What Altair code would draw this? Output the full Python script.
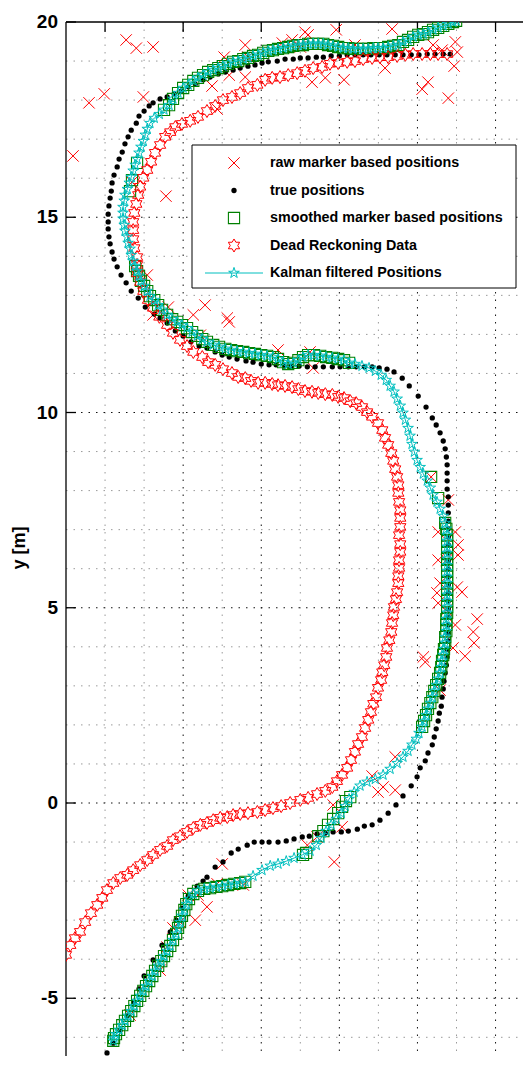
import altair as alt
import pandas as pd

# ---------------- data (metres) ----------------
true_x = [-2.07,-1.95,-1.79,-1.61,-1.43,-1.25,-1.13,-1.00,-0.77,-0.54,
          -0.33,-0.18,-0.03,0.13,0.36,0.51,0.61,0.82,1.02,1.23,
          1.41,1.64,1.82,2.02,2.20,2.43,2.64,2.84,3.05,3.23,
          3.43,3.64,3.84,4.05,4.23,4.46,4.64,4.84,5.04,5.25,
          5.45,5.63,5.84,5.99,6.07,6.20,6.27,6.38,6.43,6.48,
          6.53,6.56,6.61,6.63,6.66,6.68,6.71,6.74,6.76,6.76,
          6.79,6.79,6.79,6.79,6.79,6.79,6.79,6.79,6.79,6.79,
          6.79,6.79,6.79,6.79,6.79,6.79,6.79,6.79,6.79,6.76,
          6.76,6.76,6.76,6.74,6.71,6.66,6.58,6.48,6.38,6.22,
          6.02,5.79,5.61,5.40,5.22,5.02,4.84,4.64,4.43,4.23,
          4.02,3.82,3.59,3.38,3.18,2.97,2.77,2.59,2.38,2.20,
          2.00,1.79,1.61,1.38,1.18,1.00,0.82,0.61,0.41,0.20,
          0.00,-0.20,-0.41,-0.59,-0.74,-0.97,-1.15,-1.33,-1.46,-1.59,
          -1.69,-1.77,-1.82,-1.87,-1.90,-1.92,-1.92,-1.92,-1.90,-1.87,
          -1.84,-1.82,-1.77,-1.69,-1.64,-1.56,-1.49,-1.41,-1.33,-1.20,
          -1.13,-1.00,-0.87,-0.77,-0.59,-0.41,-0.23,-0.05,0.13,0.31,
          0.51,0.69,0.90,1.08,1.28,1.46,1.66,1.84,2.02,2.18,
          2.41,2.61,2.82,3.00,3.20,3.41,3.59,3.79,4.00,4.20,
          4.40,4.61,4.81,5.02,5.22,5.43,5.63,5.84,6.04,6.25,
          6.45,6.66,6.84]
true_y = [-6.63,-6.40,-6.15,-5.81,-5.45,-5.10,-4.76,-4.43,-4.02,-3.64,
          -3.30,-3.00,-2.69,-2.38,-2.13,-2.00,-1.90,-1.64,-1.51,-1.28,
          -1.18,-1.08,-1.00,-1.00,-1.00,-1.00,-0.97,-0.92,-0.87,-0.85,
          -0.79,-0.77,-0.74,-0.74,-0.72,-0.67,-0.59,-0.56,-0.44,-0.26,
          -0.05,0.18,0.44,0.67,0.90,1.08,1.28,1.49,1.69,1.90,
          2.10,2.30,2.48,2.71,2.92,3.12,3.33,3.53,3.74,3.94,
          4.15,4.35,4.56,4.76,4.97,5.17,5.38,5.58,5.79,5.99,
          6.20,6.40,6.61,6.81,7.02,7.22,7.43,7.63,7.84,8.04,
          8.25,8.45,8.66,8.86,9.07,9.27,9.48,9.68,9.86,10.14,
          10.42,10.68,10.88,11.04,11.11,11.14,11.17,11.17,11.17,11.17,
          11.17,11.17,11.17,11.17,11.17,11.19,11.19,11.19,11.22,11.22,
          11.24,11.29,11.32,11.37,11.42,11.47,11.55,11.65,11.70,11.81,
          11.96,12.09,12.29,12.42,12.52,12.70,12.93,13.11,13.32,13.52,
          13.73,13.93,14.11,14.32,14.50,14.70,14.88,15.08,15.29,15.49,
          15.67,15.88,16.08,16.29,16.49,16.67,16.88,17.06,17.23,17.41,
          17.59,17.72,17.85,17.93,18.03,18.08,18.16,18.23,18.34,18.41,
          18.52,18.59,18.67,18.72,18.77,18.82,18.87,18.90,18.95,18.98,
          19.00,19.05,19.05,19.08,19.08,19.10,19.10,19.13,19.13,19.16,
          19.16,19.16,19.16,19.16,19.16,19.16,19.16,19.16,19.16,19.18,
          19.18,19.18,19.18]

dr_x = [-3.00,-2.89,-2.77,-2.64,-2.51,-2.36,-2.20,-2.07,-1.95,-1.79,
        -1.61,-1.43,-1.28,-1.10,-0.92,-0.77,-0.59,-0.41,-0.26,-0.08,
        0.10,0.26,0.44,0.61,0.77,0.95,1.13,1.28,1.46,1.66,
        1.90,2.10,2.30,2.51,2.74,3.00,3.20,3.43,3.64,3.82,
        3.94,4.07,4.20,4.30,4.40,4.48,4.58,4.66,4.74,4.81,
        4.87,4.94,4.99,5.07,5.10,5.15,5.20,5.22,5.28,5.33,
        5.35,5.38,5.40,5.45,5.48,5.51,5.51,5.53,5.53,5.56,
        5.56,5.53,5.56,5.56,5.56,5.53,5.51,5.51,5.48,5.43,
        5.38,5.33,5.25,5.17,5.10,4.99,4.84,4.71,4.58,4.43,
        4.28,4.12,3.97,3.82,3.64,3.46,3.30,3.12,2.95,2.79,
        2.61,2.43,2.28,2.10,1.92,1.74,1.59,1.41,1.25,1.02,
        0.82,0.64,0.49,0.26,0.10,-0.08,-0.26,-0.41,-0.61,-0.77,
        -0.90,-1.02,-1.10,-1.18,-1.18,-1.18,-1.25,-1.28,-1.28,-1.28,
        -1.25,-1.20,-1.15,-1.10,-1.02,-0.92,-0.82,-0.72,-0.59,-0.46,
        -0.33,-0.20,-0.03,0.18,0.38,0.61,0.82,1.02,1.25,1.46,
        1.66,1.90,2.10,2.28,2.48,2.69,2.92,3.12,3.33,3.56,
        3.76,3.97,4.20,4.40,4.61,4.84,5.04,5.25,5.48,5.69,
        5.89,6.12,6.33,6.53,6.76]
dr_y = [-3.89,-3.64,-3.46,-3.30,-3.05,-2.82,-2.61,-2.43,-2.23,-2.05,
        -1.92,-1.84,-1.72,-1.59,-1.46,-1.33,-1.20,-1.10,-0.95,-0.85,
        -0.74,-0.64,-0.56,-0.51,-0.44,-0.38,-0.36,-0.31,-0.28,-0.26,
        -0.23,-0.18,-0.13,-0.08,0.00,0.08,0.13,0.23,0.31,0.41,
        0.56,0.72,0.90,1.10,1.31,1.51,1.69,1.92,2.13,2.33,
        2.54,2.71,2.95,3.15,3.35,3.53,3.74,3.97,4.17,4.38,
        4.61,4.81,5.02,5.22,5.40,5.63,5.81,6.02,6.22,6.43,
        6.63,6.86,7.07,7.30,7.50,7.71,7.94,8.14,8.35,8.55,
        8.76,8.96,9.17,9.35,9.55,9.73,9.89,10.01,10.14,10.24,
        10.29,10.37,10.40,10.45,10.47,10.50,10.53,10.55,10.60,10.65,
        10.68,10.70,10.73,10.76,10.76,10.81,10.88,10.91,11.01,11.11,
        11.22,11.29,11.42,11.55,11.70,11.86,12.04,12.24,12.45,12.68,
        12.88,13.11,13.34,13.57,13.78,13.98,14.21,14.44,14.67,14.88,
        15.11,15.34,15.57,15.78,16.01,16.21,16.42,16.65,16.85,17.06,
        17.18,17.31,17.39,17.47,17.57,17.72,17.85,18.00,18.08,18.18,
        18.31,18.39,18.52,18.57,18.59,18.64,18.69,18.75,18.82,18.85,
        18.93,18.95,18.98,19.00,19.05,19.08,19.10,19.10,19.13,19.16,
        19.18,19.18,19.18,19.18,19.18]

kal_x = [-1.79,-1.77,-1.72,-1.64,-1.56,-1.49,-1.41,-1.33,-1.25,-1.18,
         -1.10,-1.02,-0.95,-0.87,-0.79,-0.72,-0.64,-0.56,-0.49,-0.41,
         -0.33,-0.26,-0.18,-0.13,-0.08,-0.03,0.03,0.08,0.15,0.26,
         0.38,0.54,0.69,0.85,1.00,1.15,1.31,1.46,1.59,
         1.79,2.02,2.23,2.43,2.64,2.84,3.05,3.25,3.41,3.53,
         3.66,3.79,3.92,4.05,4.15,4.25,4.38,4.53,4.71,4.92,
         5.12,5.30,5.48,5.63,5.76,5.86,5.97,6.04,6.12,
         6.17,6.22,6.27,6.33,6.38,6.43,6.48,6.53,6.58,6.61,
         6.63,6.66,6.68,6.71,6.71,6.74,6.74,6.74,6.76,6.76,
         6.76,6.76,6.76,6.76,6.76,6.76,6.76,6.76,6.76,6.76,
         6.76,6.76,6.74,6.71,
         6.66,6.58,6.50,6.40,6.33,6.25,6.15,6.07,5.99,5.92,
         5.86,5.81,5.76,5.69,5.63,5.56,5.48,5.40,5.30,5.20,
         5.07,4.92,4.76,4.58,4.40,4.25,
         4.12,3.97,3.82,3.66,3.51,3.35,3.20,3.07,2.95,2.82,
         2.69,2.56,2.43,2.30,2.15,2.00,1.84,1.69,1.54,1.38,
         1.23,1.08,0.92,0.77,0.61,0.49,0.36,0.23,0.10,-0.03,
         -0.15,-0.28,-0.41,-0.54,-0.64,-0.74,-0.85,-0.92,-1.00,-1.08,
         -1.13,-1.18,-1.23,
         -1.28,-1.33,-1.36,-1.41,-1.43,-1.49,-1.51,-1.54,-1.54,-1.54,
         -1.51,-1.49,-1.43,-1.38,-1.33,-1.28,-1.23,-1.18,-1.13,-1.08,
         -1.02,-0.97,-0.92,-0.85,-0.74,-0.61,-0.49,-0.36,-0.26,-0.13,
         0.00,
         0.13,0.26,0.38,0.51,0.64,0.77,0.90,1.02,1.15,1.28,
         1.41,1.54,1.66,1.79,1.92,2.05,2.18,2.30,2.43,2.56,
         2.69,2.82,2.95,3.07,3.20,3.33,3.46,3.59,3.71,3.84,
         3.97,4.10,4.23,4.35,4.48,4.61,4.74,4.87,4.99,5.12,
         5.25,5.38,5.51,5.63,5.76,5.89,6.02,6.15,6.27,6.40,
         6.53,6.66,6.79,6.91,6.99]
kal_y = [-6.09,-6.02,-5.92,-5.81,-5.69,-5.58,-5.45,-5.33,-5.20,-5.07,
         -4.94,-4.81,-4.69,-4.56,-4.43,-4.30,-4.17,-4.05,-3.92,-3.79,
         -3.66,-3.51,-3.35,-3.20,-3.05,-2.89,-2.74,-2.59,-2.46,-2.33,
         -2.25,-2.20,-2.18,-2.15,-2.13,-2.10,-2.07,-2.05,-2.02,
         -1.87,-1.72,-1.61,-1.56,-1.49,-1.41,-1.33,-1.23,-1.08,-0.90,
         -0.72,-0.56,-0.41,-0.26,-0.08,0.10,0.28,0.44,0.54,0.61,
         0.72,0.87,1.02,1.18,1.33,1.49,1.64,1.79,1.95,
         2.10,2.25,2.41,2.56,2.71,2.87,3.02,3.18,3.33,3.48,
         3.64,3.79,3.94,4.10,4.25,4.40,4.56,4.71,4.87,5.02,
         5.17,5.33,5.48,5.63,5.79,5.94,6.09,6.25,6.40,6.56,
         6.71,6.86,7.02,7.17,
         7.35,7.53,7.71,7.89,8.07,8.25,8.43,8.60,8.78,8.99,
         9.19,9.40,9.60,9.81,9.99,10.17,10.35,10.53,10.68,10.83,
         10.96,11.06,11.14,11.19,11.24,11.27,
         11.34,11.37,11.40,11.42,11.45,11.47,11.47,11.42,11.34,11.27,
         11.24,11.29,11.37,11.42,11.45,11.47,11.50,11.52,11.55,11.57,
         11.60,11.63,11.68,11.73,11.81,11.88,11.96,12.06,12.16,12.24,
         12.32,12.39,12.50,12.63,12.75,12.88,12.98,13.11,13.24,13.37,
         13.50,13.62,13.75,
         13.88,14.03,14.19,14.34,14.50,14.65,14.80,14.96,15.11,15.26,
         15.42,15.57,15.72,15.88,16.03,16.19,16.34,16.49,16.65,16.80,
         16.95,17.11,17.26,17.41,17.54,17.64,17.75,17.87,18.03,18.18,
         18.31,
         18.39,18.49,18.57,18.64,18.72,18.77,18.82,18.87,18.93,18.98,
         19.00,19.05,19.08,19.13,19.16,19.21,19.26,19.28,19.31,19.33,
         19.36,19.39,19.41,19.41,19.44,19.44,19.44,19.44,19.41,19.39,
         19.36,19.33,19.33,19.31,19.31,19.31,19.31,19.33,19.33,19.33,
         19.36,19.39,19.41,19.49,19.54,19.62,19.67,19.69,19.74,19.80,
         19.85,19.90,19.95,20.00,20.03]

# isolated smoothed squares (the dense stretches lie on the filtered track)
sm_bot_x = [3.07,3.15,3.46,3.59,3.71,3.84,3.97,4.07,4.17,4.28]
sm_bot_y = [-1.33,-1.28,-0.85,-0.72,-0.56,-0.41,-0.26,-0.10,0.05,0.15]
sm_right_x = [6.35,6.53]
sm_right_y = [8.35,7.81]
sm_left_x = [-1.18,-1.31,-1.36]
sm_left_y = [16.39,15.95,15.67]

raw_x = [-1.46,-1.20,-0.77,-2.41,-2.02,-1.02,-2.82,-1.31,-0.44,1.59,
         1.05,1.66,1.18,1.59,0.74,0.87,3.12,3.20,3.92,5.35,
         2.79,2.54,3.30,3.64,4.12,4.40,5.17,6.27,6.12,6.79,
         6.97,7.02,6.94,6.40,6.63,0.56,0.26,1.13,1.18,-0.77,
         -0.38,-0.92,2.43,3.25,3.33,6.35,6.79,6.53,6.97,8.89,
         7.04,7.04,6.53,6.58,7.02,7.14,6.50,6.53,7.53,7.43,
         7.45,7.22,6.15,6.20,6.97,6.91,5.43,4.84,5.12,4.99,
         5.43,3.84,3.18,3.87,4.07,3.43,1.00,0.87,1.54,0.13,
         0.38,0.61,0.31,-0.26,-0.41,6.58,6.74,-0.59,-1.36,3.00,
         0.44,6.74,-0.08]
raw_y = [19.54,19.33,19.36,17.93,18.16,18.08,16.57,15.90,15.54,19.41,
         19.10,19.10,18.64,18.59,18.36,17.77,19.74,19.67,19.80,19.82,
         19.54,19.46,18.46,18.57,18.52,19.41,18.82,18.46,18.28,18.05,
         19.49,19.23,18.87,19.41,19.28,12.75,12.50,12.42,12.32,12.50,
         12.70,13.52,11.60,11.55,11.14,8.35,7.76,6.94,6.94,7.12,
         6.61,6.35,6.22,5.63,5.53,5.40,5.38,5.12,4.71,4.38,
         4.10,3.76,3.74,3.61,4.56,3.97,1.18,0.69,0.41,0.28,
         0.33,-0.05,-1.08,-1.51,-0.61,-0.87,-1.56,-2.07,-2.10,-2.36,
         -2.36,-2.66,-3.00,-3.20,-3.69,2.89,4.94,-4.28,-5.43,19.36,
         11.98,6.22,-3.05]

legend_labels = ["raw marker based positions", "true positions",
                 "smoothed marker based positions", "Dead Reckoning Data",
                 "Kalman filtered Positions"]
y_ticks = [-5, 0, 5, 10, 15, 20]
y_tick_labels = ["-5", "0", "5", "10", "15", "20"]
y_title = "y [m]"
x_major = [0, 2, 4, 6, 8]
x_minor = [-2, -1, 1, 3, 5, 7]
y_major = [-5, 0, 5, 10, 15]
y_minor = [-6, -4, -3, -2, -1, 1, 2, 3, 4, 6, 7, 8, 9, 11, 12, 13, 14, 16, 17, 18, 19]
top_ticks = [-2, 0, 2, 4, 6, 8]

# ---------------- build ----------------
sm_x = kal_x[0:39] + sm_bot_x + kal_x[67:102] + sm_right_x + kal_x[127:171] + sm_left_x + kal_x[197:257]
sm_y = kal_y[0:39] + sm_bot_y + kal_y[67:102] + sm_right_y + kal_y[127:171] + sm_left_y + kal_y[197:257]

df_true = pd.DataFrame({"x": true_x, "y": true_y})
df_dr = pd.DataFrame({"x": dr_x, "y": dr_y})
df_kal = pd.DataFrame({"x": kal_x, "y": kal_y, "i": list(range(len(kal_x)))})
df_sm = pd.DataFrame({"x": sm_x, "y": sm_y})
df_raw = pd.DataFrame({"x": raw_x, "y": raw_y})
df_ticks = pd.DataFrame({"v": y_ticks, "lab": y_tick_labels})

PX = 39.05            # pixels per metre (equal axes)
PAD_L, PAD_T = 58, 14
W = 457
H = 1034
X0 = -3.0
X1 = X0 + W / PX
Y1 = 20.0
Y0 = Y1 - H / PX
FONT = "Liberation Sans, Arial, Helvetica, sans-serif"
RED = "#ff0000"
GREEN = "#008000"
CYAN = "#00bfbf"
XPATH = "M-1,-1L1,1M-1,1L1,-1"
HEXPATH = ("M0,-1L0.289,-0.5L0.866,-0.5L0.577,0L0.866,0.5L0.289,0.5L0,1"
           "L-0.289,0.5L-0.866,0.5L-0.577,0L-0.866,-0.5L-0.289,-0.5Z")
PENTPATH = ("M0,-1L0.225,-0.309L0.951,-0.309L0.363,0.118L0.588,0.809L0,0.382"
            "L-0.588,0.809L-0.363,0.118L-0.951,-0.309L-0.225,-0.309Z")
S_RAW, S_DOT, S_SQ, S_HEX, S_PENT = 130, 28, 125, 170, 125

xs = alt.Scale(domain=[X0, X1], nice=False, zero=False)
ys = alt.Scale(domain=[Y0, Y1], nice=False, zero=False)


def XE(f="x"):
    return alt.X(f"{f}:Q", scale=xs, axis=None)


def YE(f="y"):
    return alt.Y(f"{f}:Q", scale=ys, axis=None)


layers = []

# grid (minor light, major dark, dotted)
layers.append(alt.Chart(pd.DataFrame({"v": y_minor})).mark_rule(
    stroke="#9a9a9a", strokeWidth=1, strokeDash=[1.5, 6]).encode(
    y=YE("v"), x=alt.value(0), x2=alt.value(W)))
layers.append(alt.Chart(pd.DataFrame({"v": x_minor})).mark_rule(
    stroke="#9a9a9a", strokeWidth=1, strokeDash=[1.5, 6]).encode(
    x=XE("v"), y=alt.value(0), y2=alt.value(H)))
layers.append(alt.Chart(pd.DataFrame({"v": y_major})).mark_rule(
    stroke="#111111", strokeWidth=1, strokeDash=[1.5, 6]).encode(
    y=YE("v"), x=alt.value(0), x2=alt.value(W)))
layers.append(alt.Chart(pd.DataFrame({"v": x_major})).mark_rule(
    stroke="#111111", strokeWidth=1, strokeDash=[1.5, 6]).encode(
    x=XE("v"), y=alt.value(0), y2=alt.value(H)))

# left inward ticks, tick labels and axis title
layers.append(alt.Chart(df_ticks).mark_rule(stroke="black", strokeWidth=1.3).encode(
    y=YE("v"), x=alt.value(0), x2=alt.value(10)))
layers.append(alt.Chart(df_ticks).mark_text(
    align="right", baseline="middle", font=FONT, fontSize=19, fontWeight="bold",
    color="black").encode(y=YE("v"), x=alt.value(-8), text="lab:N"))
layers.append(alt.Chart(pd.DataFrame({"t": [y_title]})).mark_text(
    align="center", baseline="middle", angle=270, font=FONT, fontSize=18,
    fontWeight="bold", color="black").encode(
    x=alt.value(-46), y=alt.value(526), text="t:N"))
# spines
layers.append(alt.Chart(pd.DataFrame({"x": [X0], "ya": [Y0], "yb": [Y1]})).mark_rule(
    stroke="black", strokeWidth=1.3).encode(x=XE("x"), y=YE("ya"), y2="yb:Q"))
layers.append(alt.Chart(pd.DataFrame({"xa": [X0], "xb": [X1], "y": [Y1]})).mark_rule(
    stroke="black", strokeWidth=1.3).encode(y=YE("y"), x=XE("xa"), x2="xb:Q"))
layers.append(alt.Chart(pd.DataFrame({"v": top_ticks})).mark_rule(
    stroke="black", strokeWidth=1.3).encode(
    x=XE("v"), y=alt.value(0), y2=alt.value(10)))

# data series
layers.append(alt.Chart(df_raw).mark_point(
    shape=XPATH, filled=False, stroke=RED, strokeWidth=1, size=S_RAW, opacity=1, clip=True
).encode(x=XE(), y=YE()))
layers.append(alt.Chart(df_true).mark_circle(
    color="black", size=S_DOT, opacity=1, clip=True).encode(x=XE(), y=YE()))
layers.append(alt.Chart(df_sm).mark_point(
    shape="square", filled=False, stroke=GREEN, strokeWidth=1.1, size=S_SQ, opacity=1, clip=True
).encode(x=XE(), y=YE()))
layers.append(alt.Chart(df_dr).mark_point(
    shape=HEXPATH, filled=False, stroke=RED, strokeWidth=1, size=S_HEX, opacity=1, clip=True
).encode(x=XE(), y=YE()))
layers.append(alt.Chart(df_kal).mark_line(
    stroke=CYAN, strokeWidth=1, clip=True).encode(x=XE(), y=YE(), order="i:Q"))
layers.append(alt.Chart(df_kal).mark_point(
    shape=PENTPATH, filled=False, stroke=CYAN, strokeWidth=1, size=S_PENT, opacity=1, clip=True
).encode(x=XE(), y=YE()))

# legend (pixel-placed decoration)
rows = [141, 168.5, 196, 223.5, 251]
SX, TX = 168, 204
one = pd.DataFrame({"k": [0]})
layers.append(alt.Chart(one).mark_rect(fill="white", stroke="black", strokeWidth=1).encode(
    x=alt.value(126), x2=alt.value(450), y=alt.value(123), y2=alt.value(266)))
layers.append(alt.Chart(one).mark_point(
    shape=XPATH, filled=False, stroke=RED, strokeWidth=1, size=S_RAW, opacity=1).encode(
    x=alt.value(SX), y=alt.value(rows[0])))
layers.append(alt.Chart(one).mark_circle(color="black", size=S_DOT, opacity=1).encode(
    x=alt.value(SX), y=alt.value(rows[1])))
layers.append(alt.Chart(one).mark_point(
    shape="square", filled=False, stroke=GREEN, strokeWidth=1.1, size=S_SQ, opacity=1).encode(
    x=alt.value(SX), y=alt.value(rows[2])))
layers.append(alt.Chart(one).mark_point(
    shape=HEXPATH, filled=False, stroke=RED, strokeWidth=1, size=S_HEX, opacity=1).encode(
    x=alt.value(SX), y=alt.value(rows[3])))
layers.append(alt.Chart(one).mark_rule(stroke=CYAN, strokeWidth=1).encode(
    x=alt.value(139), x2=alt.value(197), y=alt.value(rows[4])))
layers.append(alt.Chart(one).mark_point(
    shape=PENTPATH, filled=False, stroke=CYAN, strokeWidth=1, size=S_PENT, opacity=1).encode(
    x=alt.value(SX), y=alt.value(rows[4])))
for lab, ry in zip(legend_labels, rows):
    layers.append(alt.Chart(one).mark_text(
        align="left", baseline="middle", font=FONT, fontSize=14.3, fontWeight="bold",
        color="black", text=lab).encode(x=alt.value(TX), y=alt.value(ry)))

chart = alt.layer(*layers).properties(
    width=W, height=H,
    autosize=alt.AutoSizeParams(type="none"),
    padding={"left": PAD_L, "top": PAD_T, "right": 0, "bottom": 0},
    background="white",
).configure_view(stroke=None)

chart.save("out.html", embed_options={"renderer": "svg", "actions": False})
